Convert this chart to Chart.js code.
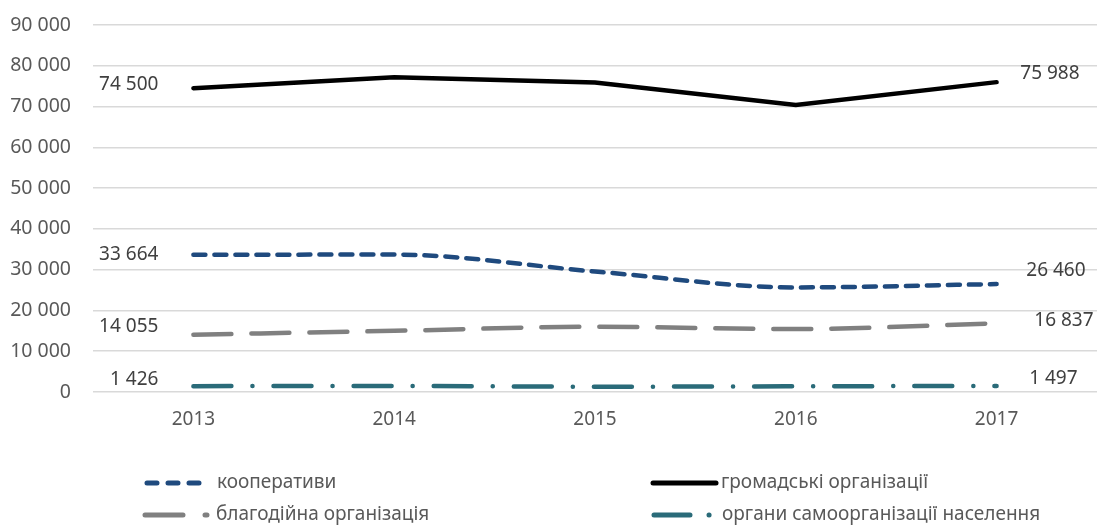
<!DOCTYPE html>
<html lang="uk">

<head>
    <meta charset="UTF-8">
    <title>Організації</title>
    <script src="https://cdn.jsdelivr.net/npm/chart.js"></script>
    <style>
        body { margin: 0; background: #fff; }
        #wrap { width: 1097px; height: 525px; }
    </style>
</head>

<body>
    <div id="wrap"><canvas id="myChart"></canvas></div>
</body>
<script>
    // data
    var roky = ['2013', '2014', '2015', '2016', '2017']
    var kooperatyvy = [33664, 33700, 29550, 25650, 26460]
    var gromadski = [74500, 77200, 75900, 70400, 75988]
    var blagodiini = [14055, 15000, 16000, 15450, 16837]
    var samoorg = [1426, 1500, 1300, 1400, 1497]
    var yTicks = [0, 10000, 20000, 30000, 40000, 50000, 60000, 70000, 80000, 90000]

    var textColor = '#595959'
    var font = '"Noto Sans", sans-serif'

    function fmt(v) {
        return String(v).replace(/\B(?=(\d{3})+(?!\d))/g, ' ')
    }

    // first / last value labels, offsets in px from the point
    var labelOffsets = [
        { first: [-35, 0], last: [89, -14] },
        { first: [-35, -4], last: [83, -9] },
        { first: [-35, -8], last: [97, -3] },
        { first: [-35, -7], last: [81, -7] }
    ]

    const endLabels = {
        id: 'endLabels',
        afterDatasetsDraw(chart) {
            const ctx = chart.ctx
            ctx.save()
            ctx.font = '19px ' + font
            ctx.fillStyle = '#404040'
            ctx.textBaseline = 'middle'
            chart.data.datasets.forEach(function (ds, i) {
                const meta = chart.getDatasetMeta(i)
                const p0 = meta.data[0]
                const p1 = meta.data[meta.data.length - 1]
                const o = labelOffsets[i]
                ctx.textAlign = 'right'
                ctx.fillText(fmt(ds.data[0]), p0.x + o.first[0], p0.y + o.first[1])
                ctx.fillText(fmt(ds.data[ds.data.length - 1]), p1.x + o.last[0], p1.y + o.last[1])
            })
            ctx.restore()
        }
    }

    // legend drawn by hand: two columns, two rows
    var legendItems = [
        { ds: 0, x1: 147, x2: 201, y: 483, dash: [10, 11], tx: 217 },
        { ds: 1, x1: 653, x2: 716, y: 483, dash: [], tx: 721 },
        { ds: 2, x1: 145, x2: 207, y: 515, dash: [38, 22], tx: 216 },
        { ds: 3, x1: 654, x2: 711, y: 515, dash: [36, 19, 0.1, 100], tx: 722 }
    ]

    const bottomLegend = {
        id: 'bottomLegend',
        afterDraw(chart) {
            const ctx = chart.ctx
            ctx.save()
            legendItems.forEach(function (it) {
                const ds = chart.data.datasets[it.ds]
                ctx.beginPath()
                ctx.strokeStyle = ds.borderColor
                ctx.lineWidth = 5
                ctx.lineCap = 'round'
                ctx.setLineDash(it.dash)
                ctx.moveTo(it.x1, it.y)
                ctx.lineTo(it.x2, it.y)
                ctx.stroke()
                ctx.setLineDash([])
                ctx.font = '19px ' + font
                ctx.fillStyle = textColor
                ctx.textAlign = 'left'
                ctx.textBaseline = 'middle'
                ctx.fillText(ds.label, it.tx, it.y)
            })
            ctx.restore()
        }
    }

    let dados = {
        labels: roky,
        datasets: [{
            label: 'кооперативи',
            data: kooperatyvy,
            borderColor: '#1f4a7e',
            borderWidth: 4.5,
            borderDash: [12, 9],
            borderCapStyle: 'round',
            cubicInterpolationMode: 'monotone'
        }, {
            label: 'громадські організації',
            data: gromadski,
            borderColor: '#000000',
            borderWidth: 4.5,
            borderCapStyle: 'round',
            tension: 0
        }, {
            label: 'благодійна організація',
            data: blagodiini,
            borderColor: '#808080',
            borderWidth: 4.5,
            borderDash: [38, 20],
            borderCapStyle: 'round',
            cubicInterpolationMode: 'monotone'
        }, {
            label: 'органи самоорганізації населення',
            data: samoorg,
            borderColor: '#2a6b79',
            borderWidth: 4.5,
            borderDash: [38, 21, 0.1, 21],
            borderCapStyle: 'round',
            cubicInterpolationMode: 'monotone'
        }]
    }

    const config = {
        type: 'line',
        data: dados,
        options: {
            responsive: true,
            maintainAspectRatio: false,
            animation: false,
            layout: { padding: { top: 25, right: 0, bottom: 82, left: 0 } },
            elements: { point: { radius: 0, hoverRadius: 0 } },
            plugins: {
                legend: { display: false },
                tooltip: { enabled: false }
            },
            scales: {
                x: {
                    offset: true,
                    grid: { display: false, drawTicks: false },
                    border: { display: false },
                    ticks: { color: textColor, font: { family: font, size: 19 }, padding: 16, maxRotation: 0 },
                    afterFit: function (s) {
                        s.height = 51
                        s.paddingLeft = 0
                        s.paddingRight = 0
                    }
                },
                y: {
                    min: 0,
                    max: 90000,
                    afterBuildTicks: function (s) { s.ticks = yTicks.map(function (v) { return { value: v } }) },
                    grid: { color: '#d9d9d9', lineWidth: 1.5, drawTicks: false },
                    border: { display: false },
                    ticks: {
                        color: textColor,
                        font: { family: font, size: 19.5 },
                        padding: 22,
                        callback: function (v) { return fmt(v) }
                    },
                    afterFit: function (s) {
                        s.width = 93
                        s.paddingTop = 0
                        s.paddingBottom = 0
                    }
                }
            }
        },
        plugins: [endLabels, bottomLegend]
    }

    let myChart = new Chart(document.getElementById('myChart'), config)
</script>

</html>
